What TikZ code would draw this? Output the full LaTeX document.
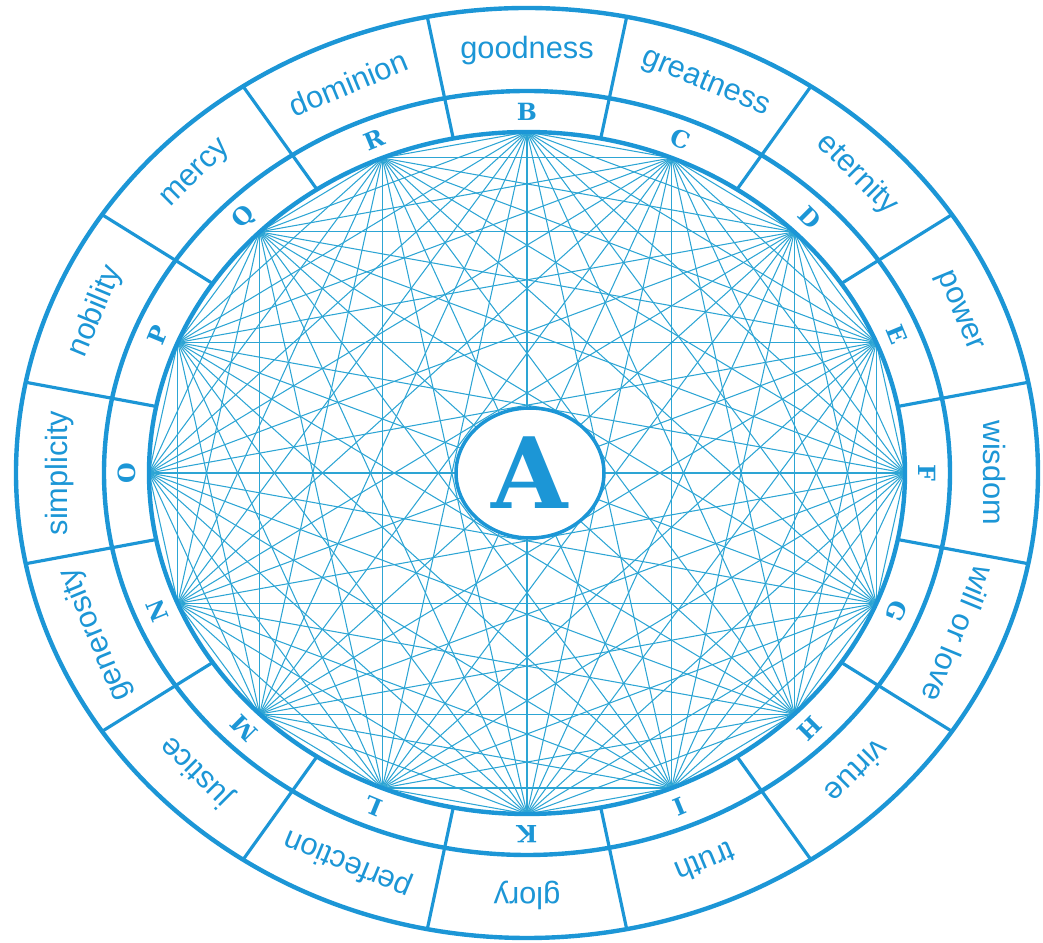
\documentclass[tikz,border=0pt]{standalone}
\usepackage{fontspec}
\setmainfont{Liberation Sans}
\newfontfamily\slabfont{DejaVu Serif}
\usetikzlibrary{shapes.geometric}
\definecolor{llull}{RGB}{28,150,214}
\definecolor{chord}{RGB}{45,165,212}

\begin{document}
\begin{tikzpicture}[every node/.style={text=llull, inner sep=0pt}]
\tikzset{ring/.style={draw=llull, line width=2.5pt}}
\tikzset{divider/.style={draw=llull, line width=1.8pt}}
\tikzset{chordline/.style={draw=chord, line width=0.6pt}}
\tikzset{letterlabel/.style={font=\slabfont\bfseries\fontsize{13.5}{14}\selectfont}}
\tikzset{wordlabel/.style={font=\fontsize{17.5}{18}\selectfont}}
\useasboundingbox (-10.54,-9.4) rectangle (10.32,9.46);
% points of the inner ring and their letters
\foreach \l [count=\i] in {B,C,D,E,F,G,H,I,K,L,M,N,O,P,Q,R}{
  \pgfmathsetmacro\ang{90-22.5*(\i-1)}
  \pgfmathsetmacro\rot{\ang-90}
  \coordinate (p\i) at (\ang:7.56cm and 6.82cm);
  \node[letterlabel, rotate=\rot] (l\l) at (\ang:8.0cm and 7.22cm) {\l};
}
\foreach \w [count=\i] in {goodness,greatness,eternity,power,wisdom,will or love,virtue,truth,glory,perfection,justice,generosity,simplicity,nobility,mercy,dominion}{
  \pgfmathsetmacro\ang{90-22.5*(\i-1)}
  \pgfmathsetmacro\rot{\ang-90}
  \node[wordlabel, rotate=\rot] (w\i) at (\ang:9.34cm and 8.44cm) {\w};
}
% every point joined to every other
\foreach \i in {1,...,15}{
  \pgfmathtruncatemacro\k{\i+1}
  \foreach \j in {\k,...,16}
    \draw[chordline] (p\i) -- (p\j);
}
\draw[ring] (0,0) ellipse [x radius=7.56cm, y radius=6.82cm];
\draw[ring] (0,0) ellipse [x radius=8.46cm, y radius=7.64cm];
\draw[ring] (0,0) ellipse [x radius=10.22cm, y radius=9.3cm];
\foreach \k in {0,...,15}
  \draw[divider] ({101.25-22.5*\k}:7.56cm and 6.82cm) -- ({101.25-22.5*\k}:10.22cm and 9.3cm);
\node[ellipse, draw=llull, line width=2pt, fill=white, minimum width=2.96cm, minimum height=2.6cm, font=\slabfont\bfseries\fontsize{56}{56}\selectfont] (A) at (0.06,0) {A};
\end{tikzpicture}
\end{document}
